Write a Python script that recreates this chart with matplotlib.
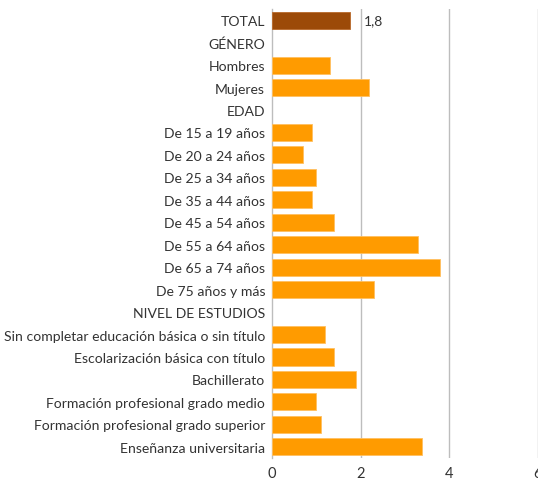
import matplotlib
matplotlib.use("Agg")
import matplotlib.pyplot as plt

categories = ["TOTAL", "GÉNERO", "Hombres", "Mujeres", "EDAD",
              "De 15 a 19 años", "De 20 a 24 años", "De 25 a 34 años",
              "De 35 a 44 años", "De 45 a 54 años", "De 55 a 64 años",
              "De 65 a 74 años", "De 75 años y más", "NIVEL DE ESTUDIOS",
              "Sin completar educación básica o sin título",
              "Escolarización básica con título", "Bachillerato",
              "Formación profesional grado medio",
              "Formación profesional grado superior",
              "Enseñanza universitaria"]
values = [1.77, None, 1.3, 2.2, None,
          0.9, 0.7, 1.0, 0.9, 1.4, 3.3, 3.8, 2.3, None,
          1.2, 1.4, 1.9, 1.0, 1.1, 3.4]
total_label = "1,8"
xticks = [0, 2, 4, 6]

plt.rcParams['font.family'] = ['Lato', 'DejaVu Sans']

fig = plt.figure(figsize=(5.38, 4.81), dpi=100)
ax = fig.add_axes([272/538, 22/481, 1 - 272/538 - 0.0008, 449/481])

text_color = "#333333"
grid_color = "#bdbdbd"

for i, (c, v) in enumerate(zip(categories, values)):
    if v is None:
        continue
    col = "#9c4a08" if c == "TOTAL" else "#ff9b00"
    edge = "#b8692a" if c == "TOTAL" else "#ffc060"
    ax.barh(i, v, height=0.76, color=col, edgecolor=edge, linewidth=0.6, zorder=3)

ax.text(values[0] + 0.3, 0, total_label, va="center", ha="left",
        fontsize=10, color=text_color, zorder=4)

ax.set_xlim(0, 6)
ax.set_ylim(19.5, -0.5)
ax.set_yticks(range(len(categories)))
ax.set_yticklabels(categories, fontsize=10.1, color=text_color)
ax.set_xticks(xticks)
ax.set_xticklabels([str(t) for t in xticks], fontsize=10.5, color=text_color)
ax.tick_params(axis="both", length=0)
ax.tick_params(axis="y", pad=5)
ax.tick_params(axis="x", pad=6)

for s in ["top", "right", "bottom"]:
    ax.spines[s].set_visible(False)
ax.spines["left"].set_color(grid_color)
ax.spines["left"].set_linewidth(1.0)
for t in xticks[1:]:
    ax.axvline(t, color=grid_color, linewidth=1.0, zorder=1)

fig.savefig("out.png", dpi=100)
